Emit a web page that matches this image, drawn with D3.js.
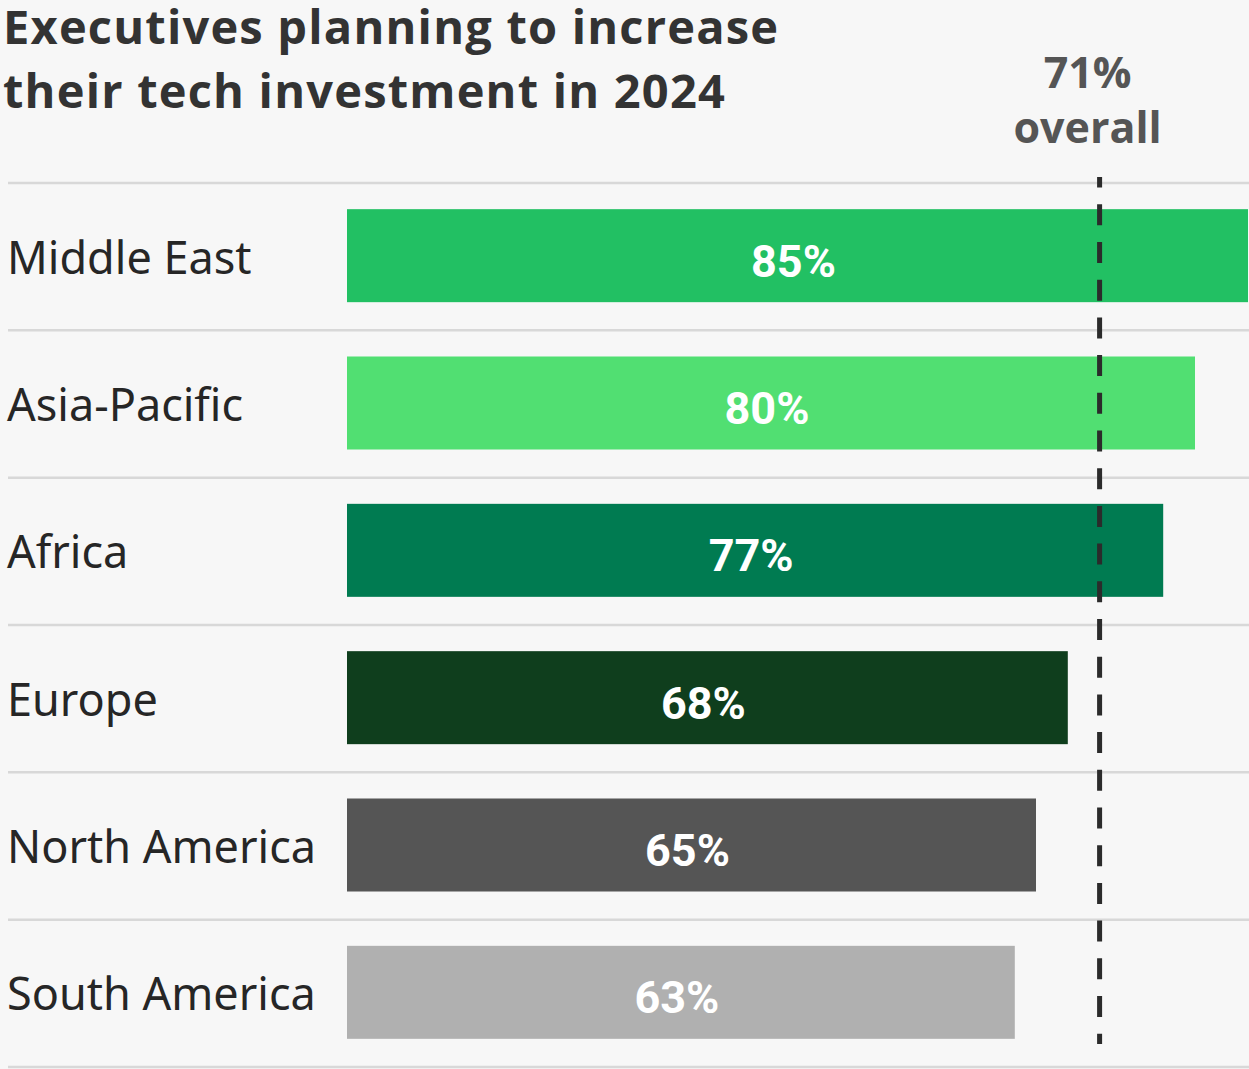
<!DOCTYPE html>
<html>
<head>
<meta charset="utf-8">
<script src="https://cdn.jsdelivr.net/npm/d3@7"></script>
<style>
  html, body { margin: 0; padding: 0; background: #f7f7f7; }
  svg { display: block; }
</style>
</head>
<body>
<svg id="chart" width="1249" height="1069"></svg>
<script>
// Regions and the share of executives planning to raise tech spend (%)
const regions = ["Middle East", "Asia-Pacific", "Africa", "Europe", "North America", "South America"];
const shares = [85, 80, 77, 68, 65, 63];
const barColors = ["#22c063", "#51df72", "#007b51", "#0f3e1d", "#555555", "#b0b0b0"];
const overallShare = 71;
const titleLines = ["Executives planning to increase", "their tech investment in 2024"];

const W = 1249, H = 1069;
const svg = d3.select("#chart");
svg.append("rect").attr("width", W).attr("height", H).attr("fill", "#f7f7f7");

const labelFont = "'Noto Sans', 'Open Sans', sans-serif";
const titleFont = "'Open Sans', 'Noto Sans', sans-serif";
const valueFont = "Roboto, 'Noto Sans', sans-serif";

const x = d3.scaleLinear().domain([0, 85]).range([347, 1248]);
const y = d3.scaleBand().domain(regions).range([183, 1067]).paddingInner(0).paddingOuter(0);
const barH = 93;

// Title
svg.append("text")
  .attr("font-family", titleFont).attr("font-weight", 700)
  .attr("font-size", 47).attr("letter-spacing", 1.2).attr("fill", "#333333")
  .selectAll("tspan").data(titleLines).join("tspan")
  .attr("x", 3).attr("y", (d, i) => 44 + i * 64)
  .text(d => d);

// Row separators
const sepYs = [y.range()[0]].concat(regions.map(r => y(r) + y.bandwidth()));
svg.append("g").selectAll("line").data(sepYs).join("line")
  .attr("x1", 8).attr("x2", W)
  .attr("y1", d => d).attr("y2", d => d)
  .attr("stroke", "#d8d8d8").attr("stroke-width", 2.5);

const rows = svg.append("g").selectAll("g").data(regions).join("g")
  .attr("transform", r => `translate(0, ${y(r) + y.bandwidth() / 2})`);

// Bars
rows.append("rect")
  .attr("x", x(0)).attr("y", -barH / 2 - 1)
  .attr("width", (r, i) => x(shares[i]) - x(0))
  .attr("height", barH)
  .attr("fill", (r, i) => barColors[i]);

// Region names
rows.append("text")
  .attr("x", 7).attr("y", 17)
  .attr("font-family", labelFont).attr("font-size", 45)
  .attr("fill", "#262626")
  .text(r => r);

// Value labels inside bars
rows.append("text")
  .attr("x", (r, i) => (x(0) + x(shares[i])) / 2 - 4)
  .attr("y", 20)
  .attr("text-anchor", "middle")
  .attr("font-family", valueFont).attr("font-weight", 700)
  .attr("font-size", 45).attr("fill", "#ffffff")
  .text((r, i) => shares[i] + "%");

// Overall reference line
svg.append("line")
  .attr("x1", x(overallShare)).attr("x2", x(overallShare))
  .attr("y1", 177).attr("y2", 1044)
  .attr("stroke", "#2b2b2b").attr("stroke-width", 5)
  .attr("stroke-dasharray", "21,16.7").attr("stroke-dashoffset", 10.4);

svg.append("text")
  .attr("text-anchor", "middle")
  .attr("font-family", titleFont).attr("font-weight", 700)
  .attr("font-size", 43).attr("fill", "#555555")
  .selectAll("tspan").data([overallShare + "%", "overall"]).join("tspan")
  .attr("x", x(overallShare) - 12).attr("y", (d, i) => i === 0 ? 88 : 143)
  .text(d => d);
</script>
</body>
</html>
